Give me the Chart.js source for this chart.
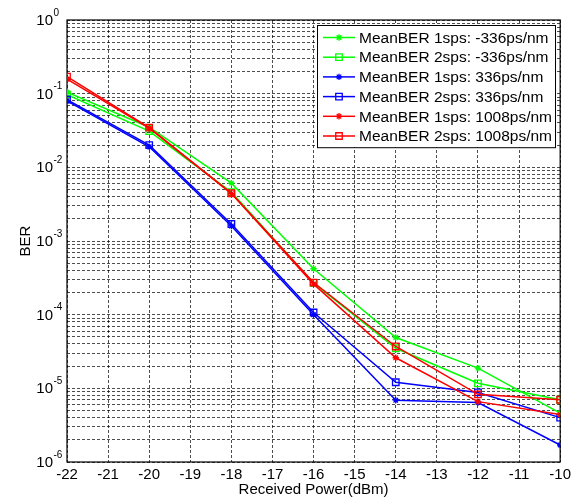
<!DOCTYPE html>
<html>
<head>
<meta charset="utf-8">
<script src="https://cdn.jsdelivr.net/npm/chart.js@4/dist/chart.umd.min.js"></script>
<style>
  html, body { margin: 0; padding: 0; background: #fff; }
  #wrap { width: 575px; height: 502px; }
</style>
</head>
<body>
<div id="wrap"><canvas id="ber_chart" width="575" height="502"></canvas></div>
<script>

// received power (dBm)
const powers = [-22, -20, -18, -16, -14, -12, -10];

// mean BER per setting
const ber1spsNeg336 = [0.105, 0.035, 0.0061, 4.2e-4, 4.9e-5, 1.88e-5, 4.6e-6];
const ber2spsNeg336 = [0.097, 0.031, 0.0046, 2.7e-4, 3.5e-5, 1.17e-5, 7.0e-6];
const ber1sps336 = [0.080, 0.019, 0.0016, 1.0e-4, 6.9e-6, 6.4e-6, 1.7e-6];
const ber2sps336 = [0.083, 0.020, 0.0017, 1.07e-4, 1.21e-5, 8.8e-6, 4.0e-6];
const ber1sps1008 = [0.157, 0.034, 0.0044, 2.6e-4, 2.6e-5, 6.6e-6, 4.4e-6];
const ber2sps1008 = [0.170, 0.0345, 0.00445, 2.73e-4, 3.7e-5, 8.3e-6, 7.0e-6];

const seriesLabels = [
  'MeanBER 1sps: -336ps/nm',
  'MeanBER 2sps: -336ps/nm',
  'MeanBER 1sps: 336ps/nm',
  'MeanBER 2sps: 336ps/nm',
  'MeanBER 1sps: 1008ps/nm',
  'MeanBER 2sps: 1008ps/nm'
];
const seriesValues = [ber1spsNeg336, ber2spsNeg336, ber1sps336, ber2sps336, ber1sps1008, ber2sps1008];
const seriesColors = ['#00ff00', '#00ff00', '#0000ff', '#0000ff', '#ff0000', '#ff0000'];
const seriesMarkers = ['star', 'rect', 'star', 'rect', 'star', 'rect'];

const xTicks = [-22, -21, -20, -19, -18, -17, -16, -15, -14, -13, -12, -11, -10];
const yExponents = [-6, -5, -4, -3, -2, -1, 0];

const FONT = '"Liberation Sans", Arial, sans-serif';

function markerRadius(style) {
  return style === 'rect' ? 4.6 : 3.2;
}

function makeDataset(i) {
  return {
    label: seriesLabels[i],
    data: powers.map((p, k) => ({x: p, y: seriesValues[i][k]})),
    borderColor: seriesColors[i],
    backgroundColor: 'rgba(0,0,0,0)',
    borderWidth: 1.5,
    pointStyle: seriesMarkers[i],
    pointRadius: markerRadius(seriesMarkers[i]),
    pointBorderWidth: 1.3,
    pointBorderColor: seriesColors[i],
    pointBackgroundColor: 'rgba(0,0,0,0)',
    tension: 0,
    order: seriesLabels.length - i
  };
}

/////////////////////
// closed axes box
const frame = {
  id: 'frame',
  beforeDatasetsDraw(chart) {
    const a = chart.chartArea, ctx = chart.ctx;
    ctx.save();
    ctx.strokeStyle = '#000';
    ctx.lineWidth = 1.2;
    ctx.strokeRect(a.left, a.top, a.right - a.left, a.bottom - a.top);
    ctx.restore();
  }
};

// legend box in the top-right corner
const boxLegend = {
  id: 'boxLegend',
  afterDraw(chart) {
    const ctx = chart.ctx;
    const x0 = 317, y0 = 25, w = 238, rowH = 19.7;
    const h = rowH * seriesLabels.length + 4;
    ctx.save();
    ctx.fillStyle = '#fff';
    ctx.fillRect(x0, y0, w, h);
    ctx.strokeStyle = '#000';
    ctx.lineWidth = 1;
    ctx.strokeRect(x0 + 0.5, y0 + 0.5, w, h);
    ctx.textBaseline = 'middle';
    seriesLabels.forEach((lab, i) => {
      const cy = y0 + 12.5 + i * rowH;
      ctx.strokeStyle = seriesColors[i];
      ctx.lineWidth = 1.5;
      ctx.beginPath();
      ctx.moveTo(x0 + 6, cy);
      ctx.lineTo(x0 + 38, cy);
      ctx.stroke();
      ctx.fillStyle = 'rgba(0,0,0,0)';
      ctx.lineWidth = 1.3;
      Chart.helpers.drawPoint(ctx, {
        pointStyle: seriesMarkers[i],
        radius: markerRadius(seriesMarkers[i]),
        borderWidth: 1.3
      }, x0 + 22, cy);
      ctx.fillStyle = '#000';
      ctx.font = '15.5px ' + FONT;
      ctx.fillText(lab, x0 + 42, cy + 1);
    });
    ctx.restore();
  }
};

// y labels as 10 with raised exponent
const powerLabels = {
  id: 'powerLabels',
  afterDraw(chart) {
    const ctx = chart.ctx;
    const ys = chart.scales.y;
    ctx.save();
    ctx.fillStyle = '#000';
    ctx.textBaseline = 'middle';
    yExponents.forEach(e => {
      const py = ys.getPixelForValue(Math.pow(10, e));
      ctx.font = '15px ' + FONT;
      ctx.textAlign = 'right';
      ctx.fillText('10', 53, py + 1);
      ctx.font = '10px ' + FONT;
      ctx.textAlign = 'left';
      ctx.fillText(String(e), 53.5, py - 7);
    });
    ctx.restore();
  }
};

const gridOpts = {color: '#000', lineWidth: 0.7, drawTicks: false};
const borderOpts = {display: false, dash: [3, 2]};

const config = {
  type: 'line',
  data: {
    datasets: seriesValues.map((v, i) => makeDataset(i))
  },
  options: {
    responsive: false,
    animation: false,
    layout: {padding: {left: 0, right: 14, top: 20, bottom: 0}},
    plugins: {
      legend: {display: false},
      tooltip: {enabled: false},
      title: {display: false}
    },
    scales: {
      x: {
        type: 'linear',
        min: -22,
        max: -10,
        afterBuildTicks: (scale) => { scale.ticks = xTicks.map(v => ({value: v})); },
        afterFit: (scale) => { scale.height = 40; },
        ticks: {
          color: '#000',
          font: {family: FONT, size: 15},
          padding: 4,
          maxRotation: 0,
          autoSkip: false
        },
        grid: gridOpts,
        border: borderOpts,
        title: {
          display: true,
          text: 'Received Power(dBm)',
          color: '#000',
          font: {family: FONT, size: 15},
          padding: {top: 0, bottom: 3}
        }
      },
      y: {
        type: 'logarithmic',
        min: 1e-6,
        max: 1,
        afterBuildTicks: (scale) => {
          const t = [];
          yExponents.forEach(e => {
            const lim = e === 0 ? 1 : 9;
            for (let m = 1; m <= lim; m++) t.push({value: m * Math.pow(10, e)});
          });
          scale.ticks = t;
        },
        afterFit: (scale) => { scale.width = 67; },
        ticks: {display: false, autoSkip: false},
        grid: gridOpts,
        border: borderOpts,
        title: {
          display: true,
          text: 'BER',
          color: '#000',
          font: {family: FONT, size: 15},
          padding: {top: 17, bottom: 0}
        }
      }
    }
  },
  plugins: [frame, powerLabels, boxLegend]
};

const ctx = document.getElementById('ber_chart').getContext('2d');
const myChart = new Chart(ctx, config);
</script>
</body>
</html>
